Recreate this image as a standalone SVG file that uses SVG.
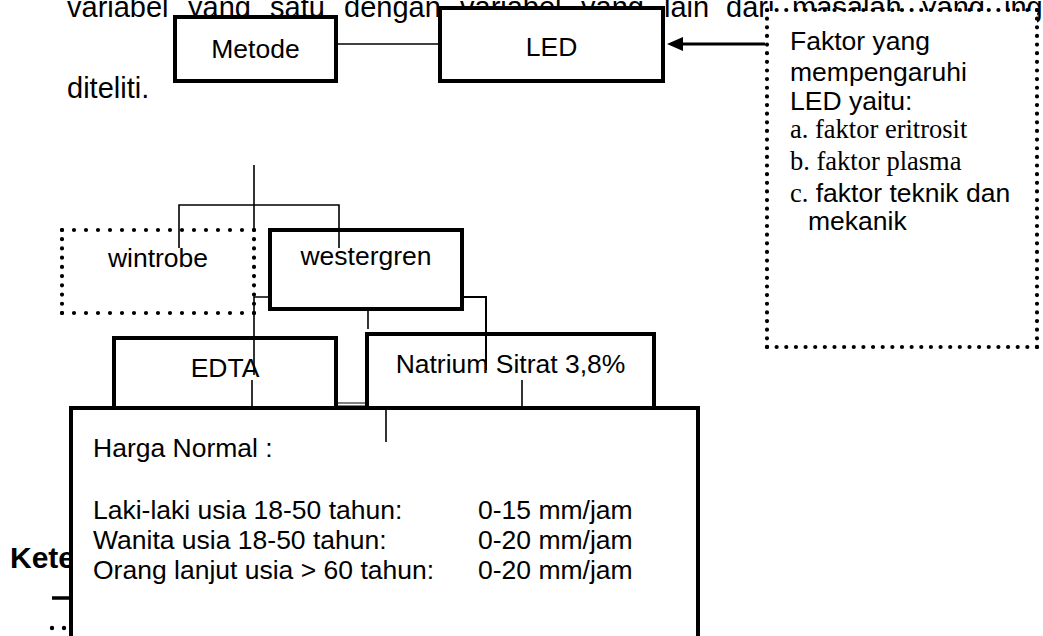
<svg xmlns="http://www.w3.org/2000/svg" width="1043" height="636" viewBox="0 0 1043 636">
<style>
.para{font-family:"Liberation Sans",Arial,sans-serif;font-size:29px;fill:#000}
.lbl{font-family:"Liberation Sans",Arial,sans-serif;font-size:26.5px;fill:#000}
.ser{font-family:"Liberation Serif","Times New Roman",serif;font-size:26.5px}
.box{fill:#fff;stroke:#000;stroke-width:4}
.fill{fill:#fff;stroke:none}
.dot{fill:none;stroke:#000;stroke-width:4.2;stroke-linecap:round}
.ln{fill:none;stroke:#000;stroke-width:1.6}
.mid{text-anchor:middle}
</style>
<defs>
<marker id="arr" viewBox="0 0 16 14" refX="11" refY="7" markerWidth="16" markerHeight="14" markerUnits="userSpaceOnUse" orient="auto">
<path d="M0 0 L16 7 L0 14 Z" fill="#000"/>
</marker>
</defs>
<rect width="1043" height="636" fill="#fff"/>
<g id="paragraph">
<text class="para" y="17"><tspan x="67">variabel</tspan><tspan x="188">yang</tspan><tspan x="270">satu</tspan><tspan x="344">dengan</tspan><tspan x="460">variabel</tspan><tspan x="581">yang</tspan><tspan x="664">lain</tspan><tspan x="726">dari</tspan><tspan x="792">masalah</tspan><tspan x="922">yang</tspan><tspan x="1004">ing</tspan></text>
<text class="para" x="67" y="98">diteliti.</text>
</g>
<g id="legend">
<text x="10" y="568" style="font-family:'Liberation Sans',Arial,sans-serif;font-size:30px;font-weight:bold">Kete</text>
<line x1="52" y1="598" x2="75" y2="598" stroke="#000" stroke-width="3.5"/>
<circle cx="52" cy="628" r="2.2" fill="#000"/>
<circle cx="64" cy="628" r="2.2" fill="#000"/>
</g>
<g id="node-metode">
<rect class="box" x="175" y="17" width="161" height="64"/>
<text class="lbl mid" x="255.5" y="58">Metode</text>
</g>
<g id="node-led">
<rect class="box" x="440" y="8" width="223" height="73"/>
<text class="lbl mid" x="551.5" y="56">LED</text>
</g>
<g id="node-faktor">
<rect class="fill" x="767" y="11" width="270" height="336"/>
<path class="dot" style="stroke-dasharray:0 9.642" d="M767 10 H1037 M767 347 H1037"/>
<path class="dot" style="stroke-dasharray:0 8.64" d="M767 10 V347 M1037 10 V347"/>
<text class="lbl" x="790" y="50">Faktor yang</text>
<text class="lbl" x="790" y="81">mempengaruhi</text>
<text class="lbl" x="790" y="110">LED yaitu:</text>
<text class="ser" x="790" y="138">a. faktor eritrosit</text>
<text class="ser" x="790" y="170">b. faktor plasma</text>
<text class="lbl" x="790" y="202"><tspan class="ser">c.</tspan> faktor teknik dan</text>
<text class="lbl" x="808" y="230">mekanik</text>
</g>
<g id="node-wintrobe">
<rect class="fill" x="62" y="230" width="192" height="83"/>
<path class="dot" style="stroke-dasharray:0 11.999" d="M62 230 H254 M62 313 H254"/>
<path class="dot" style="stroke-dasharray:0 9.221" d="M62 230 V313 M254 230 V313"/>
<text class="lbl mid" x="158" y="267">wintrobe</text>
</g>
<g id="node-westergren">
<rect class="box" x="270" y="230" width="192" height="79"/>
<text class="lbl mid" x="366" y="265">westergren</text>
</g>
<g id="node-edta">
<rect class="box" x="114" y="338" width="222" height="70"/>
<text class="lbl mid" x="225" y="377">EDTA</text>
</g>
<g id="node-natrium">
<rect class="box" x="367" y="334" width="287" height="74"/>
<text class="lbl mid" x="510.5" y="373">Natrium Sitrat 3,8%</text>
</g>
<g id="node-harga">
<rect class="box" x="71" y="408" width="627" height="260"/>
<text class="lbl" x="93" y="457">Harga Normal :</text>
<text class="lbl" x="93" y="519">Laki-laki usia 18-50 tahun:</text>
<text class="lbl" x="93" y="549">Wanita usia 18-50 tahun:</text>
<text class="lbl" x="93" y="579">Orang lanjut usia &gt; 60 tahun:</text>
<text class="lbl" x="478" y="519">0-15 mm/jam</text>
<text class="lbl" x="478" y="549">0-20 mm/jam</text>
<text class="lbl" x="478" y="579">0-20 mm/jam</text>
</g>
<g id="connectors">
<path class="ln" d="M336 44 H440"/>
<path fill="none" stroke="#000" stroke-width="3" d="M765 44 H672" marker-end="url(#arr)"/>
<path class="ln" d="M254 165 V232"/>
<path class="ln" d="M179 248 V205 H339 V248"/>
<path class="ln" d="M270 297 H254 V375"/>
<path class="ln" style="stroke-width:2" d="M462 297 H486 V370"/>
<path class="ln" d="M368 309 V329"/>
<path class="ln" d="M252 380 V406"/>
<path class="ln" d="M522 380 V406"/>
<path class="ln" d="M386 410 V442"/>
<rect x="337" y="403" width="30" height="3" fill="none" stroke="#000" stroke-width="1"/>
</g>
</svg>
